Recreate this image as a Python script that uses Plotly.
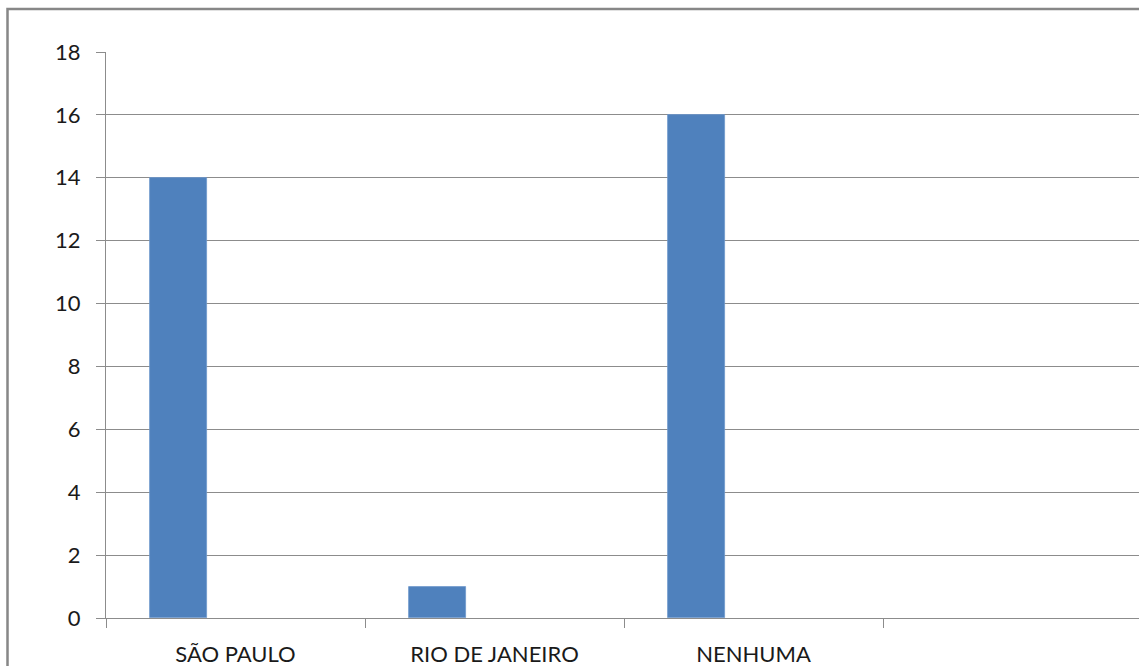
import plotly.graph_objects as go

# Category labels (last slot left empty) and counts
categories = ["SÃO PAULO", "RIO DE JANEIRO", "NENHUMA", ""]
counts = [14, 1, 16]
y_ticks = [0, 2, 4, 6, 8, 10, 12, 14, 16, 18]

W, H = 1139, 666
left, top, bottom = 106, 52, 48
slot_px = 259.0
plot_w = W - left

bar_w = 0.22
x_pos = list(range(len(counts)))

fig = go.Figure()
fig.add_trace(go.Bar(
    x=x_pos,
    y=counts,
    width=bar_w,
    offset=-1.5 * bar_w,
    marker=dict(color="#4F81BD", line=dict(color="#6f98cc", width=0.8)),
    showlegend=False,
    hoverinfo="y",
))

axis_col = "#8c8c8c"
font = dict(family="Lato, Open Sans, sans-serif", size=22, color="#1a1a1a")

fig.update_layout(
    width=W,
    height=H,
    margin=dict(l=left, r=0, t=top, b=bottom, pad=0, autoexpand=False),
    paper_bgcolor="white",
    plot_bgcolor="white",
    font=font,
    bargap=0,
    xaxis=dict(
        range=[-0.5, -0.5 + plot_w / slot_px],
        tickmode="array",
        tickvals=list(range(len(categories))),
        ticktext=categories,
        ticks="outside",
        ticklen=9,
        tickcolor="rgba(0,0,0,0)",
        ticklabelstandoff=8,
        showgrid=False,
        showline=True,
        linecolor=axis_col,
        linewidth=1,
        zeroline=False,
        automargin=False,
        minor=dict(
            tickmode="array",
            tickvals=[i - 0.5 for i in range(len(categories) + 1)],
            ticks="outside",
            ticklen=9,
            tickcolor=axis_col,
            tickwidth=1,
            showgrid=False,
        ),
        fixedrange=True,
    ),
    yaxis=dict(
        range=[0, 18],
        tickmode="array",
        tickvals=y_ticks,
        ticks="outside",
        ticklen=9,
        tickcolor=axis_col,
        tickwidth=1,
        ticklabelstandoff=11,
        showgrid=True,
        gridcolor=axis_col,
        gridwidth=1,
        showline=True,
        linecolor=axis_col,
        linewidth=1,
        zeroline=False,
        automargin=False,
        fixedrange=True,
    ),
)

# Outer chart frame
fig.add_shape(
    type="rect",
    xref="paper", yref="paper",
    x0=(7.5 - left) / plot_w, x1=1.2,
    y0=-0.3, y1=(H - bottom - 9) / (H - top - bottom),
    line=dict(color="#878787", width=2.5),
    fillcolor="rgba(0,0,0,0)",
    layer="below",
)

fig.write_html("out.html")
